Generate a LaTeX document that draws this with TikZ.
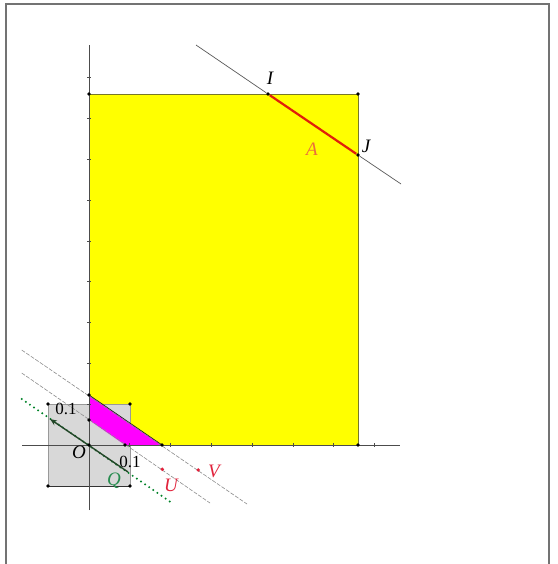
\documentclass[tikz,border=0pt]{standalone}
\usepackage{fontspec}
\setmainfont{Liberation Serif}
\usetikzlibrary{arrows.meta}
\definecolor{yel}{RGB}{255,255,0}
\definecolor{mag}{RGB}{255,0,255}
\definecolor{sq}{RGB}{216,216,216}
\definecolor{redl}{RGB}{225,35,60}
\definecolor{segred}{RGB}{225,30,10}
\definecolor{orA}{RGB}{235,110,60}
\definecolor{grn}{RGB}{0,130,40}
\definecolor{dgrn}{RGB}{35,70,40}
\definecolor{qgrn}{RGB}{40,140,80}
\definecolor{edge}{RGB}{120,120,40}
\tikzset{
  pt/.style={circle,fill=black,inner sep=0pt,minimum size=3.8pt},
  rpt/.style={circle,fill=redl,inner sep=0pt,minimum size=3.8pt},
  axis/.style={draw=black!70,line width=0.7pt},
  thinline/.style={draw=black!65,line width=0.7pt},
  dashline/.style={draw=black!45,line width=0.6pt,dash pattern=on 4pt off 1.5pt},
  lab/.style={font=\fontsize{19}{19}\selectfont\itshape,inner sep=0pt},
  numlab/.style={font=\fontsize{17}{17}\selectfont,inner sep=0pt}
}
\begin{document}
\begin{tikzpicture}[x=1pt,y=-1pt]
\useasboundingbox (0,0) rectangle (557,564);
% frame
\draw[black!55,line width=1.6pt] (6,570) -- (6,4) -- (549,4) -- (549,570);
% yellow rectangle
\coordinate (R1) at (89,94);
\coordinate (R2) at (358,94);
\coordinate (R3) at (358,445);
\fill[yel] (89,94) rectangle (358,445);
\draw[edge,line width=0.7pt] (89,445) -- (R1) -- (R2) -- (R3);
% grey square
\coordinate (S1) at (48,404);
\coordinate (S2) at (130,404);
\coordinate (S3) at (130,486);
\coordinate (S4) at (48,486);
\fill[sq] (S1) -- (S2) -- (S3) -- (S4) -- cycle;
\draw[black!40,line width=0.5pt] (S1) -- (S2) -- (S3);
\draw[black!40,line width=0.5pt] (S1) -- (S4);
\draw[black!80,line width=0.7pt] (S4) -- (S3);
% magenta region
\coordinate (M1) at (89,395);
\coordinate (M2) at (89,420);
\coordinate (M3) at (125,445);
\coordinate (M4) at (162,445);
\fill[mag] (M1) -- (M2) -- (M3) -- (M4) -- cycle;
\draw[dgrn!60!black,line width=0.7pt] (M1) -- (M4);
% axes
\coordinate (Xl) at (22,445);
\coordinate (Xr) at (400,445);
\coordinate (Yt) at (89,45);
\coordinate (Yb) at (89,510);
\draw[axis] (Xl) -- (Xr);
\draw[axis] (Yb) -- (Yt);
\foreach \i in {1,...,7} \draw[axis] (89+40.8*\i,443) -- (89+40.8*\i,447);
\foreach \i in {1,...,9} \draw[axis] (87,445-40.8*\i) -- (91,445-40.8*\i);
% dashed lines
\coordinate (D1a) at (21.7,350);
\coordinate (D1b) at (247,504);
\coordinate (D2a) at (21.7,373);
\coordinate (D2b) at (210,503);
\draw[dashline] (D1a) -- (D1b);
\draw[dashline] (D2a) -- (D2b);
% green dotted line
\coordinate (G1) at (21.7,399);
\coordinate (G2) at (172,503);
\draw[grn,line width=2.2pt,dash pattern=on 0pt off 5pt,line cap=round] (G1) -- (G2);
% green arrow
\coordinate (Ta) at (128,472);
\coordinate (Th) at (50,419);
\draw[dgrn,line width=1.4pt,-{Stealth[length=7pt,width=5.5pt]}] (Ta) -- (Th);
% line IJ
\coordinate (L1) at (196,45);
\coordinate (L2) at (401,184);
\node[pt] (I) at (268,94) {};
\node[pt] (J) at (358,155) {};
\draw[thinline] (L1) -- (I);
\draw[thinline] (J) -- (L2);
\draw[segred,line width=2.2pt] (I) -- (J);
% points
\node[pt] (O) at (89,445) {};
\node[pt] (P1) at (M1) {};
\node[pt] (P2) at (M2) {};
\node[pt] (P3) at (M3) {};
\node[pt] (P4) at (M4) {};
\node[pt] (C1) at (S1) {};
\node[pt] (C2) at (S2) {};
\node[pt] (C3) at (S3) {};
\node[pt] (C4) at (S4) {};
\node[pt] (K1) at (R1) {};
\node[pt] (K2) at (R2) {};
\node[pt] (K3) at (R3) {};
\node[rpt] (U) at (162.3,469.3) {};
\node[rpt] (V) at (198.3,470) {};
% labels
\node[lab] (lI) at (270,78) {I};
\node[lab] (lJ) at (366,146) {J};
\node[lab,text=orA] (lA) at (312,149) {A};
\node[lab] (lO) at (79,452) {O};
\node[lab,text=qgrn] (lQ) at (114,481) {Q};
\node[lab,text=redl] (lU) at (171,485) {U};
\node[lab,text=redl] (lV) at (214,471) {V};
\node[numlab] (n1) at (66,409) {0.1};
\node[numlab] (n2) at (130,462) {0.1};
\end{tikzpicture}
\end{document}
